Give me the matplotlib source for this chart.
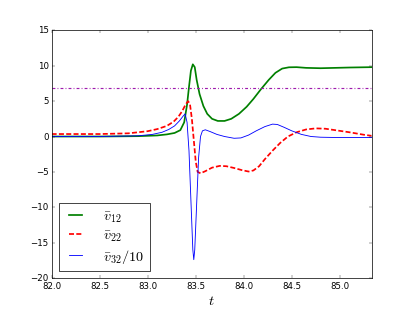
import matplotlib
matplotlib.use("Agg")
import matplotlib.pyplot as plt

t12 = [82.0, 82.5, 82.9, 83.1, 83.2, 83.28, 83.34, 83.38, 83.41, 83.43, 83.45, 83.47, 83.49,
       83.51, 83.54, 83.58, 83.62, 83.67, 83.73, 83.8, 83.87, 83.95, 84.03, 84.1, 84.18,
       84.26, 84.33, 84.4, 84.47, 84.55, 84.65, 84.8, 84.95, 85.1, 85.33]
v12 = [0.0, 0.0, 0.05, 0.15, 0.3, 0.5, 0.9, 2.0, 4.5, 7.0, 9.3, 10.2, 9.8,
       8.0, 6.0, 4.3, 3.2, 2.5, 2.2, 2.2, 2.5, 3.2, 4.2, 5.3, 6.7,
       8.0, 9.0, 9.6, 9.78, 9.8, 9.7, 9.65, 9.7, 9.75, 9.8]

t22 = [82.0, 82.5, 82.8, 83.0, 83.1, 83.2, 83.27, 83.32, 83.36, 83.39, 83.42, 83.44, 83.46,
       83.48, 83.5, 83.52, 83.55, 83.6, 83.67, 83.75, 83.82, 83.9, 83.98, 84.05, 84.1,
       84.16, 84.22, 84.3, 84.38, 84.46, 84.55, 84.65, 84.75, 84.85, 84.95, 85.1, 85.25, 85.33]
v22 = [0.35, 0.35, 0.45, 0.75, 1.05, 1.5, 2.1, 2.8, 3.6, 4.4, 5.0, 4.6, 2.5,
       -0.5, -3.5, -5.0, -5.2, -4.9, -4.4, -4.15, -4.2, -4.45, -4.75, -4.95, -4.8,
       -4.2, -3.2, -2.0, -0.9, 0.0, 0.6, 1.0, 1.15, 1.1, 0.9, 0.6, 0.25, 0.1]

t32 = [82.0, 82.5, 82.9, 83.05, 83.15, 83.22, 83.28, 83.33, 83.37, 83.39, 83.41, 83.43, 83.45,
       83.47, 83.48, 83.49, 83.51, 83.53, 83.55, 83.57, 83.6, 83.65, 83.72, 83.8, 83.9,
       83.97, 84.05, 84.13, 84.22, 84.3, 84.35, 84.42, 84.5, 84.6, 84.7, 84.8, 85.0, 85.33]
v32 = [0.0, 0.0, 0.1, 0.3, 0.6, 1.0, 1.5, 2.2, 2.9, 3.2, 2.0, -2.0, -9.0,
       -16.0, -17.4, -16.0, -9.5, -3.0, 0.0, 0.8, 0.95, 0.7, 0.3, 0.0, -0.25,
       -0.2, 0.2, 0.8, 1.4, 1.75, 1.7, 1.3, 0.8, 0.3, 0.0, -0.1, -0.15, -0.15]

threshold = 6.85

plt.style.use("classic")
plt.rcParams["lines.scale_dashes"] = False
fig = plt.figure(figsize=(8, 6), dpi=51.6)
ax = fig.add_subplot(111)
ax.plot(t12, v12, color="g", lw=2.4, label=r"$\bar{v}_{12}$")
ax.plot(t22, v22, color="r", lw=2.4, dashes=[7, 3.2], label=r"$\bar{v}_{22}$")
ax.plot(t32, v32, color="b", lw=1.2, label=r"$\bar{v}_{32}/10$")
ax.axhline(threshold, color=(0.62, 0.1, 0.68), lw=1.6, dashes=[4, 3, 1.2, 3])
ax.set_xlim(82.0, 85.33)
ax.set_ylim(-20, 15)
ax.set_xlabel(r"$t$", fontsize=20)
ax.legend(loc="lower left", fontsize=20, handlelength=1.5, labelspacing=0.25,
          handletextpad=1.2)
fig.savefig("out.png", dpi=51.6)
